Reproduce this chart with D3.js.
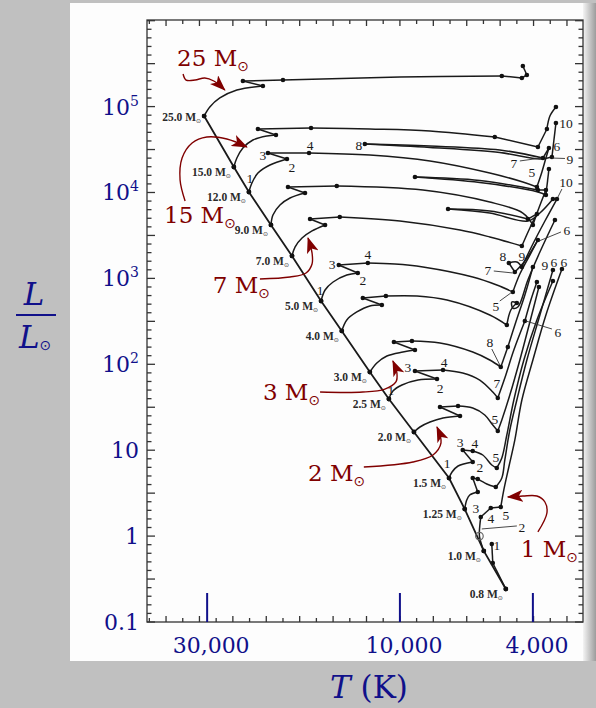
<!DOCTYPE html>
<html>
<head>
<meta charset="utf-8">
<script src="https://cdn.jsdelivr.net/npm/d3@7"></script>
<style>
  html, body { margin: 0; padding: 0; background: #c0c0c0; }
  svg { display: block; }
</style>
</head>
<body>
<svg id="chart" width="596" height="708"></svg>
<script>
// ---- data : log10(T/K), log10(L/Lsun) ; third value = computed model point (dot) ----
const zamsMass = ["25.0", "15.0", "12.0", "9.0", "7.0", "5.0", "4.0", "3.0", "2.5", "2.0", "1.5", "1.25", "1.0", "0.8"];
const zamsLogT = [4.586, 4.497, 4.452, 4.386, 4.323, 4.236, 4.174, 4.090, 4.033, 3.958, 3.853, 3.806, 3.749, 3.683];
const zamsLogL = [4.890, 4.297, 4.006, 3.622, 3.261, 2.737, 2.388, 1.910, 1.596, 1.212, 0.676, 0.315, -0.173, -0.616];
const sunPoint = [3.762, 0.0];

const track25 = [[4.586,4.890,1],[4.569,4.995,0],[4.539,5.100,0],[4.488,5.193,0],[4.410,5.240,1],[4.470,5.298,1],
  [4.350,5.309,1],[4.000,5.344,0],[3.695,5.356,1],[3.635,5.333,1],[3.620,5.368,1],[3.632,5.472,1]];
const track15 = [[4.497,4.297,1],[4.488,4.401,0],[4.470,4.518,0],[4.440,4.611,0],[4.398,4.658,0],[4.371,4.669,1],
  [4.425,4.739,1],[4.266,4.751,1],[4.090,4.739,0],[3.910,4.716,0],[3.716,4.646,1],[3.587,4.530,1],[3.560,4.739,1],
  [3.551,4.890,0],[3.533,4.995,1]];
const track12 = [[4.452,4.006,1],[4.443,4.110,0],[4.425,4.227,0],[4.389,4.320,0],[4.338,4.390,1],[4.395,4.460,1],
  [4.272,4.460,1],[4.090,4.436,0],[3.910,4.367,0],[3.731,4.227,0],[3.632,4.122,0],[3.590,4.064,1],[3.575,4.238,0],
  [3.563,4.401,0],[3.554,4.518,1],[3.572,4.401,1],[3.701,4.495,0],[3.910,4.541,0],[4.105,4.564,1],[3.910,4.524,0],
  [3.701,4.465,0],[3.581,4.390,0],[3.545,4.413,1],[3.539,4.611,0],[3.533,4.809,1]];
const track9 = [[4.386,3.622,1],[4.380,3.738,0],[4.359,3.854,0],[4.329,3.936,0],[4.284,3.994,1],[4.335,4.064,1],
  [4.189,4.076,1],[3.931,4.029,0],[3.731,3.889,0],[3.632,3.761,0],[3.602,3.622,1],[3.584,3.819,0],[3.563,4.029,1],
  [3.587,4.029,1],[3.761,4.140,0],[3.955,4.180,1],[3.761,4.116,0],[3.587,4.006,0],[3.563,3.971,1],[3.554,4.273,1]];
const track7 = [[4.323,3.261,1],[4.314,3.365,0],[4.293,3.470,0],[4.263,3.552,0],[4.224,3.622,1],[4.269,3.691,1],
  [4.180,3.715,1],[4.000,3.668,0],[3.820,3.563,0],[3.731,3.482,0],[3.635,3.377,1],[3.611,3.587,0],[3.590,3.750,1],
  [3.617,3.691,1],[3.731,3.785,0],[3.856,3.808,1],[3.731,3.761,0],[3.617,3.668,0],[3.581,3.761,0],[3.542,3.924,1]];
const track5 = [[4.236,2.737,1],[4.224,2.865,0],[4.200,2.958,0],[4.159,3.039,0],[4.126,3.063,1],[4.183,3.156,1],
  [4.096,3.179,1],[4.015,3.168,0],[3.931,3.133,0],[3.782,3.016,0],[3.710,2.923,0],[3.662,2.842,1],[3.641,3.051,0],
  [3.611,3.272,0],[3.587,3.447,1],[3.626,3.202,0],[3.656,3.074,1],[3.674,3.179,1],[3.650,3.191,0],[3.635,3.133,1],
  [3.605,3.377,0],[3.566,3.668,0],[3.530,3.924,1]];
const track4 = [[4.174,2.388,1],[4.159,2.516,0],[4.129,2.609,0],[4.090,2.679,0],[4.054,2.690,1],[4.111,2.772,1],
  [4.042,2.795,1],[3.949,2.795,0],[3.859,2.748,0],[3.731,2.574,0],[3.680,2.457,1],[3.668,2.632,0],[3.650,2.714,1],
  [3.665,2.725,0],[3.662,2.655,0],[3.647,2.667,0],[3.617,2.981,0],[3.581,3.307,0],[3.536,3.680,1]];
const track3 = [[4.090,1.910,1],[4.069,2.015,0],[4.039,2.097,0],[3.991,2.143,0],[3.955,2.166,1],[4.018,2.259,1],
  [3.964,2.271,1],[3.880,2.248,0],[3.782,2.143,0],[3.731,2.050,0],[3.698,1.968,1],[3.677,2.201,1],[3.653,2.492,0],
  [3.626,2.807,0],[3.602,3.133,1]];
const track2p5 = [[4.033,1.596,1],[4.021,1.689,0],[3.994,1.759,0],[3.946,1.817,0],[3.889,1.829,1],[3.955,1.922,1],
  [3.871,1.934,1],[3.812,1.899,0],[3.761,1.817,0],[3.722,1.677,0],[3.707,1.608,1],[3.686,1.840,0],[3.659,2.166,0],
  [3.626,2.504,1],[3.608,2.748,0],[3.590,2.958,1]];
const track2 = [[3.958,1.212,1],[3.940,1.270,0],[3.910,1.328,0],[3.871,1.375,0],[3.820,1.398,1],[3.880,1.503,1],
  [3.826,1.514,1],[3.782,1.491,0],[3.746,1.410,0],[3.722,1.293,0],[3.707,1.223,1],[3.695,1.351,0],[3.671,1.642,0],
  [3.641,2.050,0],[3.611,2.492,0],[3.584,2.900,1]];
const track1p5 = [[3.853,0.676,1],[3.844,0.746,0],[3.826,0.816,0],[3.782,0.863,1],[3.812,1.002,1],[3.782,0.991,1],
  [3.752,0.944,0],[3.725,0.828,0],[3.710,0.793,1],[3.695,0.909,0],[3.680,1.177,0],[3.659,1.584,0],[3.629,2.050,0],
  [3.590,2.516,0],[3.542,2.970,1]];
const track1p25 = [[3.806,0.315,1],[3.800,0.420,0],[3.791,0.478,0],[3.767,0.513,1],[3.782,0.676,1],[3.767,0.665,1],
  [3.740,0.607,0],[3.713,0.572,1],[3.695,0.676,0],[3.686,0.886,0],[3.671,1.235,0],[3.650,1.584,0],[3.620,2.050,0],
  [3.581,2.574,0],[3.542,3.098,1]];
const track1 = [[3.749,-0.173,1],[3.762,0.000,0],[3.761,0.118,0],[3.758,0.222,1],[3.728,0.327,1],[3.698,0.339,1],
  [3.689,0.537,0],[3.674,0.804,0],[3.656,1.119,0],[3.635,1.584,0],[3.602,2.050,0],[3.563,2.574,0],[3.515,3.109,1]];
const track0p8 = [[3.683,-0.616,1],[3.722,-0.313,1],[3.725,-0.092,1]];

const tracks = [track25, track15, track12, track9, track7, track5, track4, track3, track2p5, track2, track1p5, track1p25, track1, track0p8];

// numbered evolutionary phases written beside the tracks
const phaseLabels = [
  ["1",4.449,4.169],["2",4.323,4.297],["3",4.410,4.436],["4",4.269,4.553],["8",4.123,4.553],["5",3.605,4.238],
  ["6",3.530,4.541],["7",3.659,4.343],["9",3.491,4.390],["10",3.503,4.809],
  ["1",4.239,2.865],["2",4.111,2.981],["3",4.203,3.168],["4",4.096,3.284],["5",3.713,2.679],["6",3.500,3.563],
  ["7",3.737,3.098],["8",3.692,3.261],["9",3.635,3.261],["10",3.503,4.122],
  ["1",4.027,1.701],["2",3.880,1.724],["3",3.976,1.968],["4",3.868,2.027],["5",3.716,1.363],["7",3.710,1.782],
  ["8",3.731,2.259],["9",3.566,3.156],["6",3.539,3.191],["6",3.509,3.191],["6",3.527,2.376],
  ["1",3.859,0.851],["2",3.761,0.804],["3",3.820,1.095],["4",3.776,1.084],["5",3.713,0.921],
  ["1",3.710,-0.104],["2",3.635,0.106],["3",3.773,0.327],["4",3.728,0.211],["5",3.683,0.246]
];
const phaseLeaders = [
  [3.641,4.367,3.578,4.401],[3.506,4.396,3.545,4.401],[3.701,2.737,3.668,2.830],[3.518,3.540,3.584,3.435],
  [3.719,3.086,3.662,3.063],[3.515,4.041,3.527,3.947],[3.725,2.178,3.701,1.992],[3.545,2.411,3.623,2.504],
  [3.650,0.118,3.755,0.083]
];

// red call-outs
const calloutText = ["25", "15", "7", "3", "2", "1"];
const calloutPos = [[4.667,5.472],[4.706,3.645],[4.560,2.830],[4.410,1.584],[4.275,0.641],[3.638,-0.243]];
const calloutArrows = [
  [[4.649,5.379],[4.640,5.309],[4.613,5.309],[4.584,5.333],[4.557,5.298],[4.524,5.193]],
  [[4.643,3.901],[4.658,4.145],[4.652,4.401],[4.622,4.576],[4.578,4.646],[4.518,4.623],[4.458,4.530]],
  [[4.419,2.993],[4.329,3.016],[4.281,3.063],[4.263,3.168],[4.263,3.296],[4.275,3.470]],
  [[4.239,1.677],[4.111,1.677],[4.045,1.712],[4.012,1.794],[4.009,1.899],[4.021,2.038]],
  [[4.108,0.804],[3.961,0.863],[3.901,0.944],[3.877,1.084],[3.889,1.270]],
  [[3.587,0.048],[3.560,0.269],[3.566,0.397],[3.590,0.467],[3.632,0.467],[3.677,0.455]]
];

// axis labels
const lumTicks = [5, 4, 3, 2, 1, 0, -1];           // log10 L
const tempTickLabels = ["30,000", "10,000", "4,000"];
const tempTickLogT = [4.577, 4.000, 3.602];       // where the figure puts these marks

// ---- scales ----
const x = d3.scaleLinear().domain([4.757, 3.452]).range([147, 583]);
const y = d3.scaleLinear().domain([-1, 6.008]).range([622, 20]);

const BLUE = "#10108a", RED = "#800000", INK = "#1a1a1a";
const svg = d3.select("#chart");

// scanned page
const defs = svg.append("defs");
const grad = defs.append("linearGradient").attr("id", "edge").attr("x1", 0).attr("x2", 1).attr("y1", 0).attr("y2", 0);
grad.append("stop").attr("offset", 0).attr("stop-color", "#f4f4f4");
grad.append("stop").attr("offset", 1).attr("stop-color", "#9c9c9c");
defs.append("marker").attr("id", "head")
    .attr("viewBox", "0 0 16 12").attr("refX", 15).attr("refY", 6)
    .attr("markerWidth", 16).attr("markerHeight", 12)
    .attr("markerUnits", "userSpaceOnUse").attr("orient", "auto")
  .append("path").attr("d", "M0,0 L16,6 L0,12 L4,6 Z").attr("fill", RED);

svg.append("rect").attr("x", 70).attr("y", 3).attr("width", 516).attr("height", 658).attr("fill", "#fdfdfd");
svg.append("rect").attr("x", 583).attr("y", 3).attr("width", 13).attr("height", 658).attr("fill", "url(#edge)");

// frame with inward ticks
const frame = svg.append("g").attr("stroke", "#333").attr("stroke-width", 1.3);
frame.append("rect").attr("x", 147).attr("y", 20).attr("width", 436).attr("height", 602).attr("fill", "none");
d3.range(-10, 61).map(v => v / 10).forEach(v => {
  const major = Math.abs(v * 2 - Math.round(v * 2)) < 1e-6;
  const len = major ? 8 : 4.5;
  frame.append("line").attr("x1", 147).attr("x2", 147 + len).attr("y1", y(v)).attr("y2", y(v));
  frame.append("line").attr("x1", 583).attr("x2", 583 - len).attr("y1", y(v)).attr("y2", y(v));
});
d3.range(70, 96).map(v => v / 20).forEach(v => {
  if (v <= 3.452 || v >= 4.757) return;
  const len = Math.abs(v * 10 - Math.round(v * 10)) < 1e-6 ? 6 : 4;
  frame.append("line").attr("x1", x(v)).attr("x2", x(v)).attr("y1", 622).attr("y2", 622 - len);
  frame.append("line").attr("x1", x(v)).attr("x2", x(v)).attr("y1", 20).attr("y2", 20 + len);
});

// ---- tracks ----
const line = d3.line().x(d => x(d[0])).y(d => y(d[1])).curve(d3.curveCatmullRom.alpha(0.5));
function pieces(tr) {
  const out = []; let cur = [tr[0]];
  for (let i = 1; i < tr.length; i++) {
    cur.push(tr[i]);
    if (tr[i][2]) { out.push(cur); cur = [tr[i]]; }
  }
  if (cur.length > 1) out.push(cur);
  return out;
}
const gTracks = svg.append("g");
tracks.forEach(tr => {
  gTracks.selectAll(null).data(pieces(tr)).join("path")
    .attr("d", line).attr("fill", "none").attr("stroke", INK).attr("stroke-width", 1.5);
  gTracks.selectAll(null).data(tr.filter(d => d[2])).join("circle")
    .attr("cx", d => x(d[0])).attr("cy", d => y(d[1])).attr("r", 2.3).attr("fill", "#111");
});

// zero-age main sequence
const zams = zamsLogT.map((t, i) => [t, zamsLogL[i]]);
svg.append("path").attr("d", d3.line().x(d => x(d[0])).y(d => y(d[1]))(zams))
  .attr("fill", "none").attr("stroke", INK).attr("stroke-width", 1.8);
svg.append("g").selectAll("circle").data(zams).join("circle")
  .attr("cx", d => x(d[0])).attr("cy", d => y(d[1])).attr("r", 2.4).attr("fill", "#111");
svg.append("circle").attr("cx", x(sunPoint[0])).attr("cy", y(sunPoint[1])).attr("r", 3.8)
  .attr("fill", "none").attr("stroke", "#666").attr("stroke-width", 1.2);

const massText = svg.append("g").attr("font-family", "Liberation Serif, Times New Roman, serif")
  .attr("font-size", 11.5).attr("font-weight", "bold").attr("fill", "#2a2a2a").attr("text-anchor", "end")
  .attr("opacity", 0.999);
zams.forEach((d, i) => {
  const t = massText.append("text").attr("x", x(d[0]) - 3).attr("y", y(d[1]) + (i === 0 ? 5 : 9));
  t.append("tspan").text(zamsMass[i] + " M");
  t.append("tspan").attr("font-family", "DejaVu Sans").attr("font-size", 6).attr("font-weight", "normal")
    .attr("dy", 2).text("⊙");
});

// phase numbers
svg.append("g").selectAll("line").data(phaseLeaders).join("line")
  .attr("x1", d => x(d[0])).attr("y1", d => y(d[1])).attr("x2", d => x(d[2])).attr("y2", d => y(d[3]))
  .attr("stroke", "#333").attr("stroke-width", 0.9);
svg.append("g").attr("opacity", 0.999).selectAll("text").data(phaseLabels).join("text")
  .attr("x", d => x(d[1])).attr("y", d => y(d[2])).attr("dy", "0.35em")
  .attr("text-anchor", "middle").attr("font-family", "Liberation Serif, Times New Roman, serif")
  .attr("font-size", 13.5).attr("fill", INK).text(d => d[0]);

// ---- red call-outs ----
const arrowLine = d3.line().x(d => x(d[0])).y(d => y(d[1])).curve(d3.curveCatmullRom.alpha(0.5));
svg.append("g").selectAll("path").data(calloutArrows).join("path")
  .attr("d", arrowLine).attr("fill", "none").attr("stroke", RED).attr("stroke-width", 1.4)
  .attr("marker-end", "url(#head)");
const callouts = svg.append("g").attr("font-family", "DejaVu Serif, serif").attr("font-size", 23).attr("fill", RED);
calloutText.forEach((s, i) => {
  const t = callouts.append("text").attr("x", x(calloutPos[i][0])).attr("y", y(calloutPos[i][1]));
  t.append("tspan").text(s + " M");
  t.append("tspan").attr("font-family", "DejaVu Sans").attr("font-size", 14).attr("dy", 5).text("⊙");
});

// ---- blue axis labelling ----
const blue = svg.append("g").attr("fill", BLUE).attr("font-family", "DejaVu Serif, serif");
lumTicks.forEach(e => {
  const t = blue.append("text").attr("x", 139).attr("y", y(e) + 8).attr("font-size", 22).attr("text-anchor", "end");
  if (e >= 2) {
    t.append("tspan").text("10");
    t.append("tspan").attr("font-size", 14).attr("dy", -9).text(e);
  } else {
    t.text(e === 1 ? "10" : e === 0 ? "1" : "0.1");
  }
});
tempTickLogT.forEach((v, i) => {
  svg.append("line").attr("x1", x(v)).attr("x2", x(v)).attr("y1", 593).attr("y2", 622)
    .attr("stroke", BLUE).attr("stroke-width", 2);
  blue.append("text").attr("x", x(v) + 4).attr("y", 653).attr("font-size", 22)
    .attr("text-anchor", "middle").text(tempTickLabels[i]);
});

// L / L_sun
blue.append("text").attr("x", 34).attr("y", 305).attr("font-size", 31).attr("font-style", "italic")
  .attr("text-anchor", "middle").text("L");
svg.append("line").attr("x1", 16).attr("x2", 56).attr("y1", 315).attr("y2", 315)
  .attr("stroke", BLUE).attr("stroke-width", 2.2);
const lsun = blue.append("text").attr("x", 19).attr("y", 348).attr("font-size", 31);
lsun.append("tspan").attr("font-style", "italic").text("L");
lsun.append("tspan").attr("font-family", "DejaVu Sans").attr("font-size", 14).attr("dy", 2).text("⊙");

// T (K)
const tk = blue.append("text").attr("x", 369).attr("y", 698).attr("font-size", 31).attr("text-anchor", "middle");
tk.append("tspan").attr("font-style", "italic").text("T");
tk.append("tspan").text(" (K)");
</script>
</body>
</html>
